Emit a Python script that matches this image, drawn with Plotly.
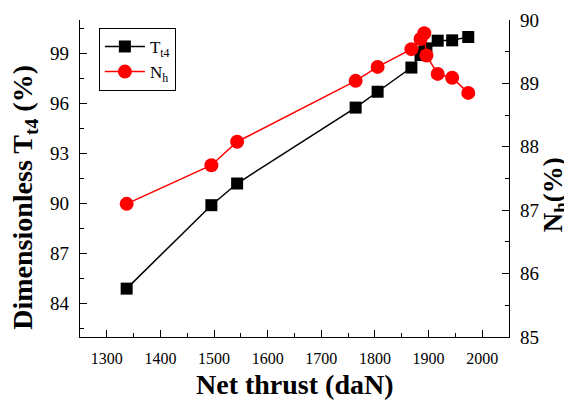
import plotly.graph_objects as go

# Data
thrust_t4 = [1337, 1495, 1543, 1764, 1805, 1868, 1885, 1892, 1896, 1917, 1944, 1974]
tt4 = [84.9, 89.9, 91.2, 95.75, 96.7, 98.15, 98.9, 99.1, 99.3, 99.76, 99.78, 99.98]

thrust_nh = [1337, 1495, 1543, 1764, 1805, 1868, 1885, 1892, 1896, 1917, 1944, 1974]
nh = [87.1, 87.71, 88.08, 89.04, 89.26, 89.54, 89.7, 89.79, 89.44, 89.15, 89.09, 88.85]

FONT = "Liberation Serif"

fig = go.Figure()
fig.add_trace(go.Scatter(
    x=thrust_t4, y=tt4, name="T<sub>t4</sub>", mode="lines+markers",
    line=dict(color="#000000", width=1.5),
    marker=dict(symbol="square", size=12, color="#000000"),
    yaxis="y"))
fig.add_trace(go.Scatter(
    x=thrust_nh, y=nh, name="N<sub>h</sub>", mode="lines+markers",
    line=dict(color="#ff0000", width=1.5),
    marker=dict(symbol="circle", size=14, color="#ff0000"),
    yaxis="y2"))

axis_common = dict(showline=True, linecolor="#000000", linewidth=1.3,
                   showgrid=False, zeroline=False, ticks="inside", ticklen=7,
                   tickwidth=1.3, tickcolor="#000000", automargin=False)

fig.update_layout(
    width=564, height=393,
    margin=dict(l=72, r=63, t=12, b=64),
    paper_bgcolor="white", plot_bgcolor="white",
    font=dict(family=FONT, color="#000000"),
    showlegend=True,
    legend=dict(x=0.044, y=0.975, xanchor="left", yanchor="top",
                bordercolor="#000000", borderwidth=1, bgcolor="white",
                font=dict(family=FONT, size=17, color="#000000"),
                tracegroupgap=0, itemwidth=40),
    xaxis=dict(range=[1250, 2050], tick0=1300, dtick=100,
               minor=dict(dtick=50, ticklen=4, ticks="inside", tickcolor="#000000", tickwidth=1.3),
               tickfont=dict(family=FONT, size=16, color="#000000"),
               ticklabelstandoff=7, **axis_common),
    yaxis=dict(range=[82, 101], tick0=84, dtick=3,
               minor=dict(dtick=1.5, ticklen=4, ticks="inside", tickcolor="#000000", tickwidth=1.3),
               tickfont=dict(family=FONT, size=19, color="#000000"),
               ticklabelstandoff=6, **axis_common),
    yaxis2=dict(range=[85, 90], tick0=85, dtick=1, overlaying="y", side="right",
                minor=dict(dtick=0.5, ticklen=4, ticks="inside", tickcolor="#000000", tickwidth=1.3),
                tickfont=dict(family=FONT, size=19, color="#000000"),
                ticklabelstandoff=6, **axis_common),
    annotations=[
        dict(text="<b>Net thrust (daN)</b>", xref="paper", yref="paper",
             x=0.501, y=-0.151, xanchor="center", yanchor="middle", showarrow=False,
             font=dict(family=FONT, size=28, color="#000000")),
        dict(text="<b>Dimensionless T<sub>t4</sub> (%)</b>", xref="paper", yref="paper",
             x=-0.13, y=0.44, xanchor="center", yanchor="middle", showarrow=False,
             textangle=-90, font=dict(family=FONT, size=28, color="#000000")),
        dict(text="<b>N<sub>h</sub>(%)</b>", xref="paper", yref="paper",
             x=1.107, y=0.45, xanchor="center", yanchor="middle", showarrow=False,
             textangle=-90, font=dict(family=FONT, size=27, color="#000000")),
    ],
)

fig.write_html("out.html")
